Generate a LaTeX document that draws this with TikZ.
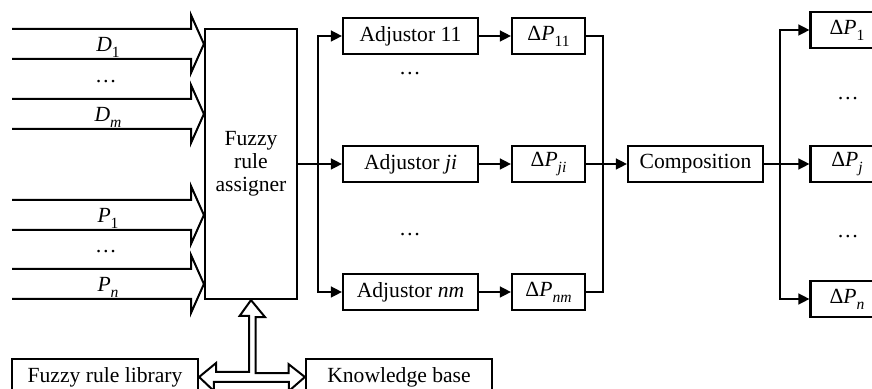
\documentclass[tikz,border=0pt]{standalone}
\usepackage{fontspec}
\setmainfont{Liberation Serif}
\usetikzlibrary{arrows.meta}
\newcommand{\symsub}[2]{\textit{#1}\raisebox{-0.6ex}{\fontsize{7.8}{8}\selectfont #2}}
\tikzstyle{block}=[draw, line width=1.1pt, inner sep=0, minimum height=18pt]
\tikzstyle{adjblock}=[block, minimum width=67.5pt]
\tikzstyle{dpblock}=[block, minimum width=36.5pt]
\tikzstyle{wire}=[line width=0.7pt]
\tikzstyle{feed}=[wire, -{Triangle[length=5.5pt,width=5.5pt]}]
\tikzstyle{fat}=[draw, line width=1pt, line join=miter]
\tikzstyle{skip}=[inner sep=0, anchor=base]

\begin{document}
\begin{tikzpicture}[x=0.5pt, y=-0.5pt, font=\fontsize{10.8}{11.5}\selectfont]
        \useasboundingbox (0,0) rectangle (872,389);
        % assigner and the input arrows
        \node[block, minimum width=46pt, minimum height=135pt, align=center] (assigner) at (251,164) {Fuzzy\\rule\\assigner};
        \foreach \y/\txt in {44/{\symsub{D}{1}}, 114/{\symsub{D}{\textit{m}}}, 215/{\symsub{P}{1}}, 284/{\symsub{P}{\textit{n}}}} {
            \draw[fat] (12,\y-15) -- (191,\y-15) -- (191,\y-29) -- (assigner.west |- 0,\y) -- (191,\y+29) -- (191,\y+15) -- (12,\y+15);
            \node[inner sep=0] at (108,\y+3) {\txt};
        }
        \node[skip] (dotsD) at (106,83) {\ldots};
        \node[skip] (dotsP) at (106,253) {\ldots};
        % adjustors
        \node[adjblock] (adj11) at (410.5,36) {Adjustor 11};
        \node[adjblock] (adjji) at (410.5,164) {Adjustor \textit{ji}};
        \node[adjblock] (adjnm) at (410.5,292) {Adjustor \textit{nm}};
        \node[dpblock] (dp11) at (548.5,36) {Δ\symsub{P}{11}};
        \node[dpblock] (dpji) at (548.5,164) {Δ\symsub{P}{\textit{ji}}};
        \node[dpblock] (dpnm) at (548.5,292) {Δ\symsub{P}{\textit{nm}}};
        \node[skip] (dotsA) at (410,75) {\ldots};
        \node[skip] (dotsB) at (410,236) {\ldots};
        \coordinate (lbus) at (318,0);
        \coordinate (rbus) at (603,0);
        \coordinate (obus) at (780,0);
        \draw[feed] (assigner.east |- adjji) -- (adjji);
        \draw[feed] (lbus |- adjji) -- (lbus |- adj11) -- (adj11);
        \draw[feed] (lbus |- adjji) -- (lbus |- adjnm) -- (adjnm);
        \draw[feed] (adj11) -- (dp11);
        \draw[feed] (adjji) -- (dpji);
        \draw[feed] (adjnm) -- (dpnm);
        % composition and outputs
        \node[adjblock] (comp) at (695.5,164) {Composition};
        \node[dpblock] (out1) at (847,30) {Δ\symsub{P}{1}};
        \node[dpblock] (outj) at (847,164) {Δ\symsub{P}{\textit{j}}};
        \node[dpblock] (outn) at (847,299) {Δ\symsub{P}{\textit{n}}};
        \node[skip] (dotsC) at (848,100) {\ldots};
        \node[skip] (dotsE) at (848,238) {\ldots};
        \draw[wire] (dp11) -- (rbus |- dp11) -- (rbus |- dpnm) -- (dpnm);
        \draw[feed] (dpji) -- (comp);
        \draw[feed] (comp) -- (outj);
        \draw[feed] (obus |- comp) -- (obus |- out1) -- (out1);
        \draw[feed] (obus |- comp) -- (obus |- outn) -- (outn);
        % library and knowledge base
        \node[block, minimum width=93pt] (library) at (105,377) {Fuzzy rule library};
        \node[block, minimum width=93pt] (kb) at (399,377) {Knowledge base};
        \draw[fat] (assigner.south) -- ++(14,17) -- ++(-9.5,0) -- ++(0,56) -- ++(33,0) -- ++(0,-9) -- (kb.west)
            -- ++(-16,14) -- ++(0,-9) -- ++(-75,0) -- ++(0,9) -- (library.east) -- ++(17,-14) -- ++(0,9)
            -- ++(33,0) -- ++(0,-56) -- ++(-9.5,0) -- cycle;
    \end{tikzpicture}
\end{document}
